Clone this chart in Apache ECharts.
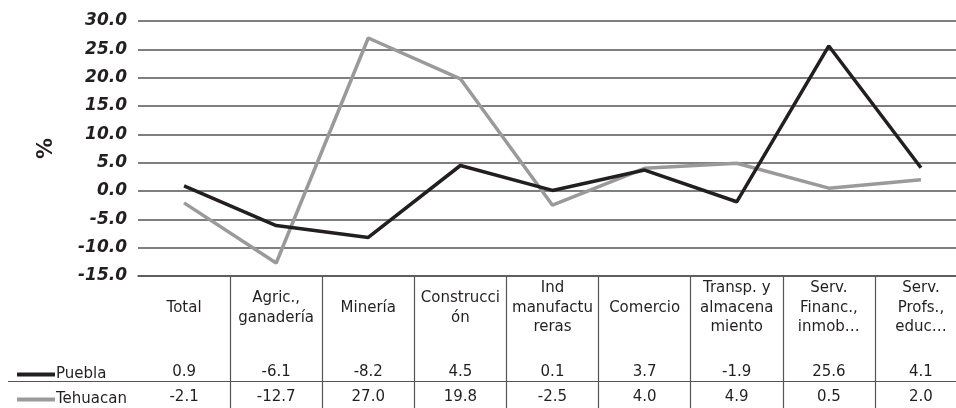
<!DOCTYPE html>
<html>
<head>
<meta charset="utf-8">
<script src="https://cdn.jsdelivr.net/npm/echarts@6/dist/echarts.min.js"></script>
<style>
  html, body { margin: 0; padding: 0; background: #fff; overflow: hidden; }
  /* el grafico original esta recortado a la derecha: el lienzo es algo mas ancho que la ventana */
  #chart { width: 967px; height: 408px; }
</style>
</head>
<body>
<div id="chart"></div>
<script>
// categorias (encabezado de la tabla)
const categorias = [
  'Total',
  'Agric.,\nganadería',
  'Minería',
  'Construcci\nón',
  'Ind\nmanufactu\nreras',
  'Comercio',
  'Transp. y\nalmacena\nmiento',
  'Serv.\nFinanc.,\ninmob…',
  'Serv.\nProfs.,\neduc…'
];
const puebla = [0.9, -6.1, -8.2, 4.5, 0.1, 3.7, -1.9, 25.6, 4.1];
const tehuacan = [-2.1, -12.7, 27.0, 19.8, -2.5, 4.0, 4.9, 0.5, 2.0];
const yTicks = { min: -15, max: 30, interval: 5 };

const colorPuebla = '#231f20';
const colorTehuacan = '#9a9a9a';
const gridColor = '#555';
const textColor = '#231f20';
const fuente = 'DejaVu Sans';

const chart = echarts.init(document.getElementById('chart'), null, { renderer: 'canvas' });

// eje oculto para cada fila de valores de la tabla
function filaTabla(valores, margen) {
  return {
    type: 'category',
    gridIndex: 0,
    position: 'bottom',
    data: valores.map(v => v.toFixed(1)),
    axisLine: { show: false, onZero: false },
    axisTick: { show: false },
    splitLine: { show: false },
    axisLabel: {
      interval: 0,
      margin: margen,
      verticalAlign: 'middle',
      color: textColor,
      fontFamily: fuente,
      fontSize: 15
    }
  };
}

const option = {
  animation: false,
  backgroundColor: '#fff',
  grid: { left: 138, right: 0, top: 21, bottom: 132, containLabel: false },
  legend: [
    {
      data: ['Puebla'],
      left: 12, top: 362,
      icon: 'rect', itemWidth: 38, itemHeight: 4,
      textStyle: { color: textColor, fontFamily: fuente, fontSize: 15, padding: [0, 0, 0, -4] }
    },
    {
      data: ['Tehuacan'],
      left: 12, top: 387,
      icon: 'rect', itemWidth: 38, itemHeight: 4,
      textStyle: { color: textColor, fontFamily: fuente, fontSize: 15, padding: [0, 0, 0, -4] }
    }
  ],
  xAxis: [
    {
      type: 'category',
      data: categorias,
      boundaryGap: true,
      axisLine: { show: true, onZero: false, lineStyle: { color: gridColor, width: 1.5 } },
      axisTick: {
        show: true,
        length: 133,
        interval: function (index) { return index !== 0; },
        lineStyle: { color: gridColor, width: 1.2 }
      },
      axisLabel: {
        interval: 0,
        margin: 32,
        verticalAlign: 'middle',
        lineHeight: 19.5,
        color: textColor,
        fontFamily: fuente,
        fontSize: 15
      }
    },
    filaTabla(puebla, 96),
    filaTabla(tehuacan, 121)
  ],
  yAxis: {
    type: 'value',
    min: yTicks.min,
    max: yTicks.max,
    interval: yTicks.interval,
    name: '%',
    nameLocation: 'middle',
    nameRotate: 90,
    nameGap: 81,
    nameTextStyle: { color: textColor, fontFamily: fuente, fontSize: 21, fontWeight: 'bold' },
    axisLine: { show: false },
    axisTick: { show: false },
    splitLine: { show: true, lineStyle: { color: gridColor, width: 1.5 } },
    axisLabel: {
      margin: 11,
      formatter: v => v.toFixed(1),
      color: textColor,
      fontFamily: fuente,
      fontSize: 17,
      fontWeight: 'bold',
      fontStyle: 'italic'
    }
  },
  series: [
    {
      name: 'Puebla',
      type: 'line',
      data: puebla,
      showSymbol: false,
      symbol: 'none',
      itemStyle: { color: colorPuebla },
      lineStyle: { color: colorPuebla, width: 3.5 },
      z: 3
    },
    {
      name: 'Tehuacan',
      type: 'line',
      data: tehuacan,
      showSymbol: false,
      symbol: 'none',
      itemStyle: { color: colorTehuacan },
      lineStyle: { color: colorTehuacan, width: 3.5 },
      z: 2
    }
  ],
  // raya horizontal entre las filas de Puebla y Tehuacan
  graphic: [
    {
      type: 'line',
      shape: { x1: 8, y1: 381.5, x2: 967, y2: 381.5 },
      style: { stroke: gridColor, lineWidth: 1.2 }
    }
  ]
};

chart.setOption(option);
</script>
</body>
</html>
